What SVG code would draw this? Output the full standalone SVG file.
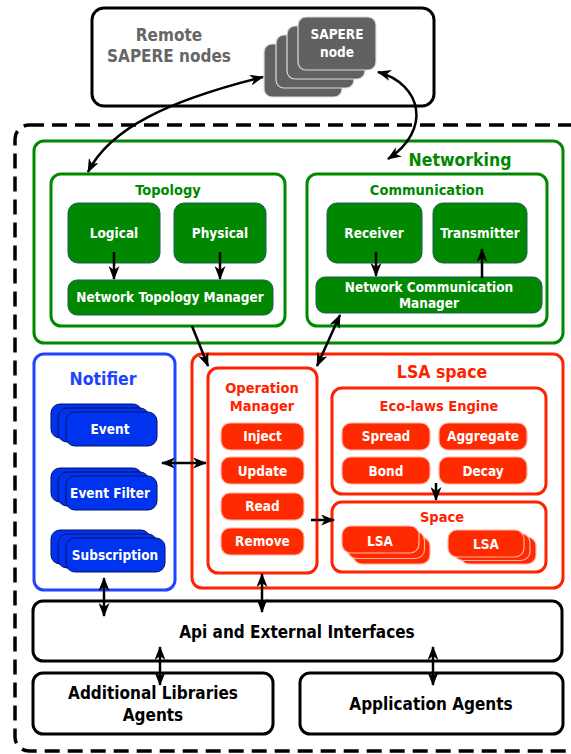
<svg xmlns="http://www.w3.org/2000/svg" width="571" height="754" viewBox="0 0 571 754">
<defs>
<marker id="ah" viewBox="0 0 14 11" refX="13" refY="5.5" markerWidth="14" markerHeight="11" markerUnits="userSpaceOnUse" orient="auto-start-reverse">
<path d="M0,0 L14,5.5 L0,11 L4,5.5 z" fill="#000"/>
</marker>
</defs>
<style>
text{font-family:"DejaVu Sans Condensed","DejaVu Sans",sans-serif;font-weight:bold;text-anchor:middle}
.w{fill:#fff;font-size:13.5px}
.gbox{fill:#fff;stroke:#008800;stroke-width:3}
.gnode{fill:#008800;stroke:#1d5c5c;stroke-width:1}
.gt{fill:#008800}
.bbox{fill:#fff;stroke:#1f44ff;stroke-width:3}
.bnode{fill:#0033ee;stroke:#001466;stroke-width:1}
.rbox{fill:#fff;stroke:#ff2200;stroke-width:3}
.rnode{fill:#ff2a00;stroke:#ffb3a6;stroke-width:1.2}
.rt{fill:#ff2200}
.kbox{fill:#fff;stroke:#000;stroke-width:3}
.snode{fill:#616161;stroke:#dcdcdc;stroke-width:1.2}
.c{fill:none;stroke:#000;stroke-width:2.5}
.k{font-size:17px;fill:#000}
</style>

<rect x="15" y="125" width="585" height="626" rx="14" fill="none" stroke="#000" stroke-width="3.5" stroke-dasharray="15 8"/>

<g id="remote">
<rect x="92" y="8" width="342" height="98" rx="12" class="kbox"/>
<text x="169" y="41" style="fill:#666;font-size:17px">Remote</text>
<text x="169" y="62" style="fill:#666;font-size:17px">SAPERE nodes</text>
<rect x="264" y="44" width="78" height="53" rx="8" class="snode"/>
<rect x="276" y="35" width="78" height="53" rx="8" class="snode"/>
<rect x="287" y="26" width="78" height="53" rx="8" class="snode"/>
<rect x="298" y="17" width="78" height="53" rx="8" class="snode"/>
<text x="337" y="39" class="w">SAPERE</text>
<text x="337" y="57" class="w">node</text>
</g>

<g id="networking">
<rect x="34" y="141" width="529" height="202" rx="10" class="gbox"/>
<text x="460" y="166" class="gt" style="font-size:17.5px">Networking</text>
</g>
<g id="topology">
<rect x="51" y="174" width="234" height="152" rx="10" class="gbox"/>
<text x="168" y="195" class="gt" style="font-size:14.5px">Topology</text>
</g>
<g id="logical"><rect x="68" y="203" width="92" height="60" rx="10" class="gnode"/><text x="114" y="238" class="w">Logical</text></g>
<g id="physical"><rect x="174" y="203" width="92" height="60" rx="10" class="gnode"/><text x="220" y="238" class="w">Physical</text></g>
<g id="ntm"><rect x="68" y="280" width="205" height="35" rx="9" class="gnode"/><text x="170" y="302" class="w">Network Topology Manager</text></g>
<g id="communication">
<rect x="307" y="174" width="240" height="152" rx="10" class="gbox"/>
<text x="427" y="195" class="gt" style="font-size:14.5px">Communication</text>
</g>
<g id="receiver"><rect x="327" y="203" width="95" height="60" rx="10" class="gnode"/><text x="374" y="238" class="w">Receiver</text></g>
<g id="transmitter"><rect x="433" y="203" width="94" height="60" rx="10" class="gnode"/><text x="480" y="238" class="w">Transmitter</text></g>
<g id="ncm"><rect x="316" y="277" width="226" height="36" rx="9" class="gnode"/><text x="429" y="292" class="w">Network Communication</text><text x="429" y="308" class="w">Manager</text></g>

<g id="notifier">
<rect x="34" y="354" width="141" height="236" rx="10" class="bbox"/>
<text x="103" y="385" style="fill:#1f44ff;font-size:17.5px">Notifier</text>
</g>
<g id="event">
<rect x="51" y="404" width="91" height="34" rx="9" class="bnode"/>
<rect x="58" y="408" width="91" height="34" rx="9" class="bnode"/>
<rect x="66" y="412" width="91" height="34" rx="9" class="bnode"/>
<text x="110" y="434" class="w">Event</text>
</g>
<g id="eventfilter">
<rect x="51" y="468" width="91" height="34" rx="9" class="bnode"/>
<rect x="58" y="472" width="91" height="34" rx="9" class="bnode"/>
<rect x="66" y="476" width="91" height="34" rx="9" class="bnode"/>
<text x="110" y="498" class="w">Event Filter</text>
</g>
<g id="subscription">
<rect x="51" y="530" width="99" height="34" rx="9" class="bnode"/>
<rect x="58" y="534" width="99" height="34" rx="9" class="bnode"/>
<rect x="66" y="538" width="99" height="34" rx="9" class="bnode"/>
<text x="115" y="560" class="w">Subscription</text>
</g>

<g id="lsaspace">
<rect x="192" y="354" width="371" height="234" rx="10" class="rbox"/>
<text x="442" y="378" class="rt" style="font-size:17.5px">LSA space</text>
</g>
<g id="opmanager">
<rect x="208" y="368" width="109" height="205" rx="10" class="rbox"/>
<text x="262" y="393" class="rt" style="font-size:14.5px">Operation</text>
<text x="262" y="411" class="rt" style="font-size:14.5px">Manager</text>
</g>
<g id="inject"><rect x="221" y="423" width="83" height="27" rx="9" class="rnode"/><text x="262.5" y="441" class="w">Inject</text></g>
<g id="update"><rect x="221" y="457" width="83" height="27" rx="9" class="rnode"/><text x="262.5" y="476" class="w">Update</text></g>
<g id="read"><rect x="221" y="493" width="83" height="27" rx="9" class="rnode"/><text x="262.5" y="511" class="w">Read</text></g>
<g id="remove"><rect x="221" y="528" width="83" height="27" rx="9" class="rnode"/><text x="262.5" y="546" class="w">Remove</text></g>
<g id="ecolaws">
<rect x="332" y="388" width="214" height="106" rx="10" class="rbox"/>
<text x="439" y="411" class="rt" style="font-size:14.5px">Eco-laws Engine</text>
</g>
<g id="spread"><rect x="342" y="423" width="88" height="27" rx="9" class="rnode"/><text x="386" y="441" class="w">Spread</text></g>
<g id="aggregate"><rect x="439" y="423" width="88" height="27" rx="9" class="rnode"/><text x="483" y="441" class="w">Aggregate</text></g>
<g id="bond"><rect x="342" y="457" width="88" height="27" rx="9" class="rnode"/><text x="386" y="476" class="w">Bond</text></g>
<g id="decay"><rect x="439" y="457" width="88" height="27" rx="9" class="rnode"/><text x="483" y="476" class="w">Decay</text></g>
<g id="space">
<rect x="332" y="502" width="214" height="70" rx="10" class="rbox"/>
<text x="442" y="522" class="rt" style="font-size:14.5px">Space</text>
</g>
<g id="lsa1">
<rect x="353" y="537" width="77" height="27" rx="9" class="rnode"/>
<rect x="347.5" y="531.5" width="77" height="27" rx="9" class="rnode"/>
<rect x="342" y="526" width="77" height="27" rx="9" class="rnode"/>
<text x="380" y="546" class="w">LSA</text>
</g>
<g id="lsa2">
<rect x="460" y="537" width="76" height="27" rx="9" class="rnode"/>
<rect x="454" y="533.5" width="76" height="27" rx="9" class="rnode"/>
<rect x="448" y="530" width="76" height="27" rx="9" class="rnode"/>
<text x="486" y="549" class="w">LSA</text>
</g>

<g id="api"><rect x="33" y="601" width="529" height="60" rx="10" class="kbox"/><text x="297" y="638" class="k">Api and External Interfaces</text></g>
<g id="addlib"><rect x="33" y="673" width="240" height="61" rx="10" class="kbox"/><text x="153" y="699" class="k">Additional Libraries</text><text x="153" y="721" class="k">Agents</text></g>
<g id="appagents"><rect x="300" y="673" width="263" height="61" rx="10" class="kbox"/><text x="431" y="710" class="k">Application Agents</text></g>

<g id="connectors">
<path class="c" d="M88,172 C110,128 170,100 263,77" marker-start="url(#ah)" marker-end="url(#ah)"/>
<path class="c" d="M378,72 C422,84 432,130 388,159" marker-start="url(#ah)" marker-end="url(#ah)"/>
<line class="c" x1="114" y1="252" x2="114" y2="279" marker-end="url(#ah)"/>
<line class="c" x1="220" y1="252" x2="220" y2="279" marker-end="url(#ah)"/>
<line class="c" x1="376" y1="252" x2="376" y2="276" marker-end="url(#ah)"/>
<line class="c" x1="482" y1="278" x2="482" y2="249" marker-end="url(#ah)"/>
<line class="c" x1="192" y1="326" x2="208" y2="366" marker-end="url(#ah)"/>
<line class="c" x1="340" y1="315" x2="317" y2="366" marker-start="url(#ah)" marker-end="url(#ah)"/>
<line class="c" x1="162" y1="463" x2="206" y2="463" marker-start="url(#ah)" marker-end="url(#ah)"/>
<line class="c" x1="311" y1="520" x2="334" y2="520" marker-end="url(#ah)"/>
<line class="c" x1="436" y1="483" x2="436" y2="500" marker-end="url(#ah)"/>
<line class="c" x1="104" y1="578" x2="104" y2="616" marker-start="url(#ah)" marker-end="url(#ah)"/>
<line class="c" x1="262" y1="574" x2="262" y2="612" marker-start="url(#ah)" marker-end="url(#ah)"/>
<line class="c" x1="160" y1="647" x2="160" y2="685" marker-start="url(#ah)" marker-end="url(#ah)"/>
<line class="c" x1="433" y1="647" x2="433" y2="685" marker-start="url(#ah)" marker-end="url(#ah)"/>
</g>
</svg>
